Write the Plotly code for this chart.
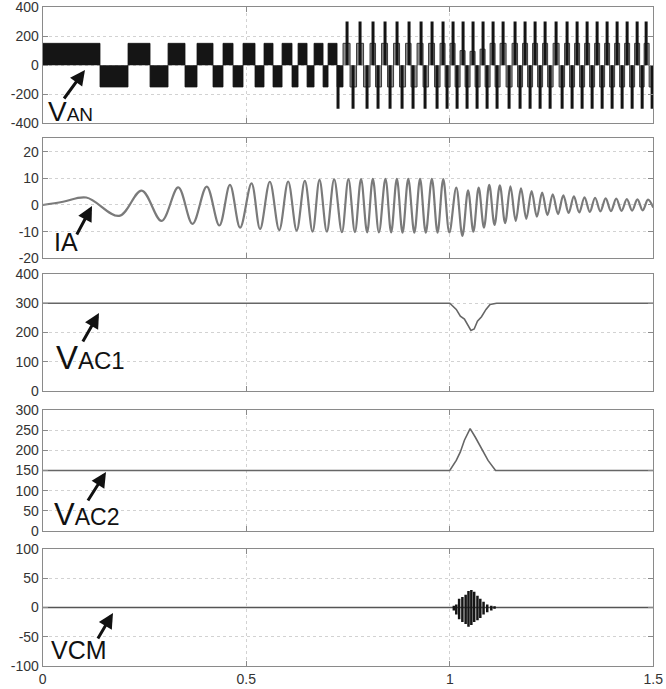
import plotly.graph_objects as go

# ---------------- data ----------------
x_tickvals = [0, 0.5, 1, 1.5]
x_ticktext = ["0", "0.5", "1", "1.5"]

# Panel 1 : VAN  (two-level part: half-cycle block edges, seconds)
van_edges = [0.0, 0.1408, 0.2096, 0.2637, 0.3079, 0.3496, 0.3791, 0.4184, 0.4430,
             0.4676, 0.4921, 0.5216, 0.5437, 0.5658, 0.5880, 0.6125, 0.6273, 0.6494,
             0.6666, 0.6887, 0.7010, 0.7231, 0.7378]
van_block_level = 150
# three-level part: centres of positive / negative pulses
van_pos_bars = [0.7477, 0.7796, 0.8115, 0.8410, 0.8705, 0.9000, 0.9295, 0.9565, 0.9835,
                1.0081, 1.0327, 1.0572, 1.0818, 1.1064, 1.1310, 1.1604, 1.1850, 1.2096,
                1.2342, 1.2612, 1.2882, 1.3128, 1.3374, 1.3620, 1.3865, 1.4111, 1.4357,
                1.4603, 1.4824]
van_pos_levels = [150, 150, 150, 150, 150, 150, 150, 150, 150,
                  150, 100, 95, 110, 150, 150, 150, 150, 150,
                  150, 150, 150, 150, 150, 150, 150, 150, 150,
                  150, 150]
van_neg_bars = [0.7255, 0.7624, 0.7968, 0.8238, 0.8533, 0.8828, 0.9098, 0.9393, 0.9688,
                0.9934, 1.0180, 1.0425, 1.0671, 1.0917, 1.1162, 1.1457, 1.1727, 1.1973,
                1.2219, 1.2465, 1.2760, 1.3005, 1.3251, 1.3497, 1.3743, 1.3988, 1.4234,
                1.4480, 1.4726, 1.4971]
van_neg_level = -150
van_bar_level = 300

# Panel 2 : IA (extrema of the current waveform)
ia_t = [0.0, 0.05, 0.107, 0.188, 0.243, 0.292, 0.333, 0.368, 0.403, 0.434, 0.460, 0.485,
        0.513, 0.534, 0.558, 0.581, 0.603, 0.624, 0.644, 0.663, 0.680, 0.698, 0.716,
        0.735, 0.751, 0.767, 0.782, 0.797, 0.811, 0.826, 0.842, 0.856, 0.870, 0.884,
        0.898, 0.913, 0.927, 0.941, 0.956, 0.970, 0.984, 0.999, 1.016, 1.031, 1.045,
        1.058, 1.071, 1.084, 1.097, 1.110, 1.123, 1.136, 1.149, 1.162, 1.175, 1.188,
        1.201, 1.214, 1.227, 1.240, 1.253, 1.266, 1.279, 1.292, 1.305, 1.318, 1.331,
        1.344, 1.357, 1.370, 1.383, 1.396, 1.409, 1.422, 1.435, 1.448, 1.461, 1.474,
        1.487, 1.5]
ia_v = [0.0, 1.2, 2.8, -4.1, 5.4, -6.0, 6.6, -7.1, 6.9, -7.7, 7.5, -8.5,
        8.1, -9.0, 8.7, -9.4, 8.8, -9.6, 9.0, -10.0, 9.4, -10.0, 9.6,
        -10.2, 9.7, -10.2, 9.7, -10.3, 9.8, -10.3, 9.8, -10.3, 9.8, -10.4,
        9.8, -10.4, 9.8, -10.4, 9.8, -10.4, 9.7, -10.3, 6.5, -11.6, 5.5,
        -10.0, 6.5, -8.5, 7.5, -7.5, 7.4, -6.8, 7.0, -6.0, 6.2, -5.2,
        5.2, -4.4, 4.6, -3.8, 4.0, -3.4, 3.6, -3.0, 3.2, -2.8, 2.9,
        -2.6, 2.7, -2.4, 2.5, -2.3, 2.4, -2.2, 2.2, -2.1, 2.1, -2.0,
        2.0, -1.0]

# Panel 3 : VAC1
vac1_t = [0.0, 1.0, 1.016, 1.026, 1.036, 1.047, 1.052, 1.060, 1.068, 1.078, 1.089, 1.099, 1.115, 1.5]
vac1_v = [300, 300, 279, 256, 246, 216, 207, 212, 239, 254, 279, 296, 300, 300]

# Panel 4 : VAC2
vac2_t = [0.0, 1.0, 1.016, 1.026, 1.036, 1.050, 1.0625, 1.078, 1.094, 1.1125, 1.5]
vac2_v = [150, 150, 175, 196, 225, 254, 233, 204, 175, 150, 150]

# Panel 5 : VCM
vcm_t = [0.0, 1.5]
vcm_v = [0, 0]
vcm_burst_t = [1.010, 1.016, 1.023, 1.031, 1.039, 1.046, 1.053, 1.060, 1.068, 1.075, 1.083, 1.092, 1.102, 1.110]
vcm_burst_hi = [3, 5, 15, 18, 22, 28, 30, 27, 20, 15, 10, 5, 3, 2]
vcm_burst_lo = [-5, -12, -20, -25, -28, -33, -30, -25, -22, -18, -12, -8, -5, -2]

# axes
y_ranges = [[-400, 400], [-20, 25], [0, 400], [0, 300], [-100, 100]]
y_tickvals = [[-400, -200, 0, 200, 400], [-20, -10, 0, 10, 20],
              [0, 100, 200, 300, 400], [0, 50, 100, 150, 200, 250, 300],
              [-100, -50, 0, 50, 100]]
y_ticktext = [["-400", "-200", "0", "200", "400"], ["-20", "-10", "0", "10", "20"],
              ["0", "100", "200", "300", "400"], ["0", "50", "100", "150", "200", "250", "300"],
              ["-100", "-50", "0", "50", "100"]]

# ---------------- layout geometry ----------------
W, H = 666, 689
panel_px = [(7, 123.3), (138.3, 258.3), (274, 391), (410, 531), (549, 666)]
x_dom = [42.7 / W, 653.3 / W]

def px(x):
    return x / W

def py(y):
    return 1 - y / H

fig = go.Figure()

# ---- Panel 1 traces ----
xs, ys = [], []
for i in range(len(van_edges) - 1):
    a, b = van_edges[i], van_edges[i + 1]
    s = 1 if i % 2 == 0 else -1
    xs += [a, a, b, b, None]
    ys += [0, s * van_block_level, s * van_block_level, 0, None]
fig.add_trace(go.Scatter(x=xs, y=ys, mode="lines", fill="toself", fillcolor="#151515",
                         line=dict(color="#151515", width=0.8), xaxis="x", yaxis="y",
                         hoverinfo="skip", showlegend=False))

events = [(t, lv) for t, lv in zip(van_pos_bars, van_pos_levels)]
events += [(t, van_neg_level) for t in van_neg_bars if t > van_edges[-1]]
events.sort()
bounds = [van_edges[-1]]
for k in range(1, len(events)):
    bounds.append((events[k - 1][0] + events[k][0]) / 2)
bounds.append(1.5)
xs, ys = [], []
for k, (t, lv) in enumerate(events):
    a, b = bounds[k], bounds[k + 1]
    xs += [a, a, b, b, None]
    ys += [0, lv, lv, 0, None]
fig.add_trace(go.Scatter(x=xs, y=ys, mode="lines", fill="toself", fillcolor="#8e8e8e",
                         line=dict(color="#3a3a3a", width=1), xaxis="x", yaxis="y",
                         hoverinfo="skip", showlegend=False))
xs, ys = [], []
for t in van_pos_bars:
    xs += [t, t, None]
    ys += [0, van_bar_level, None]
for t in van_neg_bars:
    xs += [t, t, None]
    ys += [0, -van_bar_level, None]
fig.add_trace(go.Scatter(x=xs, y=ys, mode="lines", line=dict(color="#141414", width=3),
                         xaxis="x", yaxis="y", hoverinfo="skip", showlegend=False))

# ---- Panel 2 ----
fig.add_trace(go.Scatter(x=ia_t, y=ia_v, mode="lines", line=dict(color="#7a7a7a", width=2.2, shape="spline"),
                         xaxis="x2", yaxis="y2", hoverinfo="skip", showlegend=False))
# ---- Panel 3 ----
fig.add_trace(go.Scatter(x=vac1_t, y=vac1_v, mode="lines", line=dict(color="#666666", width=1.6),
                         xaxis="x3", yaxis="y3", hoverinfo="skip", showlegend=False))
# ---- Panel 4 ----
fig.add_trace(go.Scatter(x=vac2_t, y=vac2_v, mode="lines", line=dict(color="#666666", width=1.6),
                         xaxis="x4", yaxis="y4", hoverinfo="skip", showlegend=False))
# ---- Panel 5 ----
fig.add_trace(go.Scatter(x=vcm_t, y=vcm_v, mode="lines", line=dict(color="#555555", width=1.6),
                         xaxis="x5", yaxis="y5", hoverinfo="skip", showlegend=False))
xs, ys = [], []
for t, lo, hi in zip(vcm_burst_t, vcm_burst_lo, vcm_burst_hi):
    xs += [t, t, None]
    ys += [lo, hi, None]
fig.add_trace(go.Scatter(x=xs, y=ys, mode="lines", line=dict(color="#151515", width=2.5),
                         xaxis="x5", yaxis="y5", hoverinfo="skip", showlegend=False))

tick_font = dict(family="Liberation Sans, Arial, sans-serif", size=14, color="#333333")
axis_common = dict(showline=True, linecolor="#8a8a8a", linewidth=1, mirror="ticks",
                   ticks="inside", ticklen=5, tickcolor="#8a8a8a", showgrid=True,
                   gridcolor="#d2d2d2", griddash="dot", gridwidth=1, zeroline=False,
                   tickfont=tick_font, automargin=False, ticklabeloverflow="allow")

layout = dict(width=W, height=H, margin=dict(l=0, r=0, t=0, b=0),
              paper_bgcolor="white", plot_bgcolor="white", showlegend=False)
for i in range(5):
    n = "" if i == 0 else str(i + 1)
    top, bot = panel_px[i]
    layout["xaxis" + n] = dict(domain=x_dom, range=[0, 1.5], anchor="y" + n,
                               tickvals=x_tickvals, ticktext=x_ticktext,
                               showticklabels=(i == 4), **axis_common)
    if i > 0:
        layout["xaxis" + n]["matches"] = "x"
    layout["yaxis" + n] = dict(domain=[py(bot), py(top)], range=y_ranges[i], anchor="x" + n,
                               tickvals=y_tickvals[i], ticktext=y_ticktext[i], **axis_common)
fig.update_layout(**layout)

# ---- labels & arrows ----
lab_font = "Liberation Sans, Arial, sans-serif"
labels = [
    # text, left px, baseline px, font size
    ("V<span style='font-size:19px'>AN</span>", 47, 121.7, 28),
    ("IA", 53, 251.7, 25),
    ("V<span style='font-size:24px'>AC1</span>", 55, 370, 33),
    ("V<span style='font-size:23px'>AC2</span>", 53, 526, 31),
    ("VCM", 50, 660, 25),
]
arrows = [
    # tail (x, y), tip (x, y) in px
    ((63, 100), (85, 70)),
    ((76, 236), (92, 206)),
    ((82, 343), (99, 313)),
    ((87, 502), (106, 472)),
    ((97, 640), (113, 613)),
]
anns = []
for text, lx, base, fs in labels:
    anns.append(dict(text=text, x=px(lx - 1), y=py(base + 0.212 * fs + 1), xref="paper", yref="paper",
                     xanchor="left", yanchor="bottom", showarrow=False,
                     font=dict(family=lab_font, size=fs, color="#111111")))
for (tx, ty), (hx, hy) in arrows:
    anns.append(dict(text="", x=px(hx), y=py(hy), xref="paper", yref="paper",
                     ax=tx - hx, ay=ty - hy, axref="pixel", ayref="pixel",
                     showarrow=True, arrowhead=2, arrowsize=1, arrowwidth=3,
                     arrowcolor="#111111"))
fig.update_layout(annotations=anns)

fig.write_html("out.html", config={"displayModeBar": False},
               post_script="document.body.style.margin='0px';document.body.style.overflow='hidden';")
